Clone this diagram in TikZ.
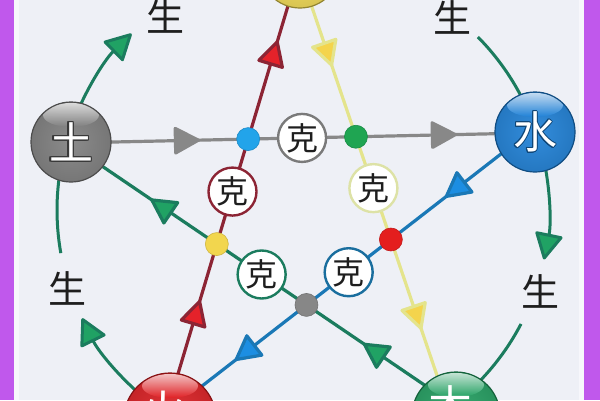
\documentclass[tikz,border=0pt]{standalone}
\usepackage{fontspec}
\newfontfamily\cjk{Noto Sans CJK SC}
\usetikzlibrary{arrows.meta,decorations.markings,calc}
\definecolor{bg}{HTML}{EEF0F6}
\definecolor{bgl}{HTML}{F7F7FB}
\definecolor{purp}{HTML}{C058EC}
\definecolor{cgrey}{HTML}{888888}
\definecolor{cmaroon}{HTML}{8C2434}
\definecolor{cred}{HTML}{E5222A}
\definecolor{cpale}{HTML}{E4E48C}
\definecolor{cyel}{HTML}{F4D44C}
\definecolor{cblue}{HTML}{1A78B6}
\definecolor{cbright}{HTML}{1C8EE2}
\definecolor{cteal}{HTML}{1B7C5E}
\definecolor{cgreen}{HTML}{20A264}
\definecolor{tuc}{HTML}{7E7E7E}
\definecolor{shuic}{HTML}{1C80D8}
\definecolor{jinc}{HTML}{F4DC52}
\definecolor{huoc}{HTML}{E21E22}
\definecolor{muc}{HTML}{22A262}
\definecolor{ink}{HTML}{1E1E1E}
\definecolor{kegrey}{HTML}{7A7A7A}
\definecolor{keyel}{HTML}{DDE2A6}
\definecolor{keblue}{HTML}{1A6E9E}
\definecolor{dblue}{HTML}{22A4EA}
\definecolor{dgreen}{HTML}{1FA552}
\definecolor{dyel}{HTML}{F2D64E}
\definecolor{dred}{HTML}{E41E1E}
\definecolor{dgrey}{HTML}{878787}
\tikzset{
  ball/.style={circle, inner sep=0pt, outer sep=0pt, fill=#1, draw=#1!60!black, line width=1.2pt,
    path picture={
      \shade[inner color=#1!90!white, outer color=#1!75!black] (path picture bounding box.center) circle (86pt);
      \shade[top color=white!85!#1, bottom color=#1, opacity=0.85] ($(path picture bounding box.north)+(0pt,-13pt)$) ellipse (28pt and 12pt);
    }},
  ballfont/.style={font=\cjk\fontsize{44}{44}\selectfont, inner sep=0pt},
  ke/.style={circle, draw=#1, line width=2.4pt, fill=white, minimum size=48pt, inner sep=0pt, text=ink, font=\cjk\fontsize{32}{32}\selectfont},
  jdot/.style={circle, inner sep=0pt, minimum size=23pt, fill=#1, draw=#1!85!black, line width=0.6pt},
  star/.style={line width=3.2pt, draw=#1},
  twotips/.style n args={3}{postaction={decorate}, decoration={markings,
      mark=at position #1 with {\arrow{Triangle[round,length=28pt,width=29pt,fill=#3]}},
      mark=at position #2 with {\arrow{Triangle[round,length=28pt,width=29pt,fill=#3]}}}},
  sheng/.style={line width=3pt, draw=cteal},
  shengtip/.style={-{Triangle[round,length=28pt,width=29pt,fill=cgreen]}},
  shengtext/.style={text=ink, font=\cjk\fontsize{38}{38}\selectfont, inner sep=0pt},
}
\begin{document}
\begin{tikzpicture}[x=1pt,y=1pt]
\useasboundingbox (0,0) rectangle (600,-400);
\clip (0,0) rectangle (600,-400);
\fill[bg] (0,0) rectangle (600,-400);
\fill[bgl] (14,0) rectangle (19,-400);
\fill[bgl] (579,0) rectangle (584,-400);

% star vertices
\coordinate (vtu) at (68,-143);
\coordinate (vshui) at (528,-133);
\coordinate (vjin) at (299,31);
\coordinate (vmu) at (445,-399);
\coordinate (vhuo) at (166,-414);
\coordinate (O) at (303,-210);

% ke (control) lines
\draw[star=cgrey, twotips={132pt}{389pt}{cgrey}] (vtu) -- (vshui);
\draw[star=cmaroon, twotips={119pt}{390pt}{cred}] (vhuo) -- (vjin);
\draw[star=cpale, twotips={103pt}{381pt}{cyel}] (vjin) -- (vmu);
\draw[star=cblue, twotips={105pt}{371pt}{cbright}] (vshui) -- (vhuo);
\draw[star=cteal, twotips={99pt}{356pt}{cgreen}] (vmu) -- (vtu);

% intersection dots
\coordinate (pb) at (intersection of vtu--vshui and vhuo--vjin);
\coordinate (pg) at (intersection of vtu--vshui and vjin--vmu);
\coordinate (pr) at (intersection of vjin--vmu and vshui--vhuo);
\coordinate (pk) at (intersection of vshui--vhuo and vmu--vtu);
\coordinate (py) at (intersection of vmu--vtu and vhuo--vjin);

\node[ke=kegrey] (k1) at ($(pb)!0.5!(pg)$) {克};
\node[ke=cmaroon] (k2) at ($(pb)!0.5!(py)$) {克};
\node[ke=keyel] (k3) at ($(pg)!0.5!(pr)$) {克};
\node[ke=cteal] (k4) at ($(py)!0.5!(pk)$) {克};
\node[ke=keblue] (k5) at ($(pr)!0.5!(pk)$) {克};

\node[jdot=dblue] (db) at (pb) {};
\node[jdot=dgreen] (dg) at (pg) {};
\node[jdot=dred] (dr) at (pr) {};
\node[jdot=dgrey] (dk) at (pk) {};
\node[jdot=dyel] (dy) at (py) {};

% sheng (generation) arcs
\draw[sheng, shengtip] ($(O)+(160:246)$) arc[start angle=160, end angle=134.2, radius=246];
\draw[sheng] ($(O)+(44.7:246)$) arc[start angle=44.7, end angle=22, radius=246];
\draw[sheng, shengtip] ($(O)+(14:246)$) arc[start angle=14, end angle=-11.6, radius=246];
\draw[sheng] ($(O)+(-27.6:246)$) arc[start angle=-27.6, end angle=-50, radius=246];
\draw[sheng, shengtip] ($(O)+(232:246)$) arc[start angle=232, end angle=206.1, radius=246];
\draw[sheng] ($(O)+(190.1:246)$) arc[start angle=190.1, end angle=168, radius=246];

\node[shengtext] (s1) at (165,-16) {生};
\node[shengtext] (s2) at (452,-17) {生};
\node[shengtext] (s3) at (540,-291) {生};
\node[shengtext] (s4) at (67,-288) {生};

% element balls
\node[ball=jinc, minimum size=80pt] (jin) at (300,32) {};
\node[ball=tuc, minimum size=80pt] (tu) at (71,-142) {};
\node[ball=shuic, minimum size=80pt] (shui) at (535,-132) {};
\node[ball=huoc, minimum size=92pt] (huo) at (170,-419) {};
\node[ball=muc, minimum size=88pt] (mu) at (456,-416) {};

\foreach \a in {0,30,...,330} \node[ballfont, text=tuc!45!black] at ($(tu)+(\a:1.3pt)$) {土};
\node[ballfont, text=white] (ttu) at (tu) {土};
\foreach \a in {0,30,...,330} \node[ballfont, text=shuic!55!black] at ($(shui)+(\a:1pt)$) {水};
\node[ballfont, text=white] (tshui) at (shui) {水};
\node[ballfont, text=white] (thuo) at ($(huo)+(-7,8)$) {火};
\node[ballfont, text=white] (tmu) at ($(mu)+(-6,10)$) {木};

\fill[purp] (0,0) rectangle (14,-400);
\fill[purp] (584,0) rectangle (600,-400);
\end{tikzpicture}
\end{document}
